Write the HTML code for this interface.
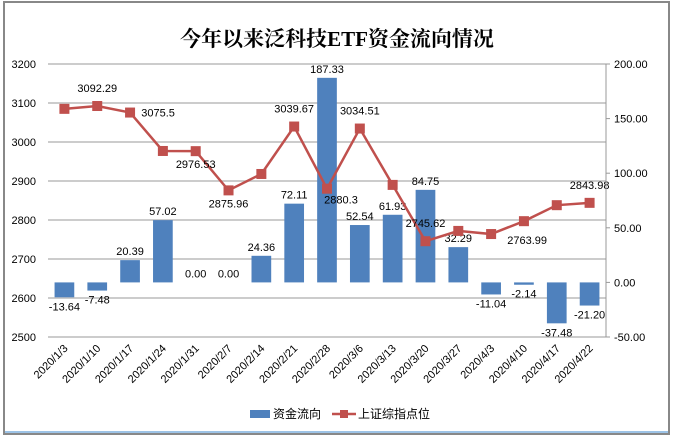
<!DOCTYPE html>
<html><head><meta charset="utf-8"><style>
body{margin:0;background:#fff;}
svg{display:block;font-family:"Liberation Sans","Noto Sans CJK SC",sans-serif;}
</style></head><body>
<svg id="chart" width="674" height="441">
<rect x="4" y="2" width="665" height="432" fill="#fff" stroke="#888" stroke-width="2"/>
<line x1="5" y1="432" x2="668" y2="432" stroke="#9dc3e6" stroke-width="2"/>
<text x="337" y="46" text-anchor="middle" font-size="21" font-weight="bold" font-family="'Liberation Serif','Noto Serif CJK SC',serif">今年以来泛科技ETF资金流向情况</text>
<g id="grid"></g><g id="bars"></g><g id="line"></g><g id="axes"></g>
<g>
<rect x="250" y="410" width="20" height="8" fill="#4f81bd"/>
<text x="273" y="418" font-size="12">资金流向</text>
<line x1="332" y1="414" x2="356" y2="414" stroke="#c0504d" stroke-width="2.5"/>
<rect x="340" y="410" width="8" height="8" fill="#c0504d"/>
<text x="358" y="418" font-size="12">上证综指点位</text>
</g>
</svg>
<script>
const categories=["2020/1/3","2020/1/10","2020/1/17","2020/1/24","2020/1/31","2020/2/7","2020/2/14","2020/2/21","2020/2/28","2020/3/6","2020/3/13","2020/3/20","2020/3/27","2020/4/3","2020/4/10","2020/4/17","2020/4/22"];
const flows=[-13.64,-7.48,20.39,57.02,0,0,24.36,72.11,187.33,52.54,61.93,84.75,32.29,-11.04,-2.14,-37.48,-21.20];
const index=[3085,3092.29,3075.5,2977,2976.53,2875.96,2918,3039.67,2880.3,3034.51,2890,2745.62,2772,2763.99,2797,2838,2843.98];
const indexLabels=[null,"3092.29","3075.5",null,"2976.53","2875.96",null,"3039.67","2880.3","3034.51",null,"2745.62",null,"2763.99",null,null,"2843.98"];
const leftTicks=[2500,2600,2700,2800,2900,3000,3100,3200];
const rightTicks=[-50,0,50,100,150,200];
const X0=48,X1=606,T=64,B=337;
const yL=v=>B-(v-2500)/700*(B-T);
const yR=v=>B-(v+50)/250*(B-T);
const bw=(X1-X0)/categories.length;
const xc=i=>X0+bw*(i+0.5);
const NS="http://www.w3.org/2000/svg";
function mk(p,t,a,txt){const e=document.createElementNS(NS,t);for(const k in a)e.setAttribute(k,a[k]);if(txt!==undefined)e.textContent=txt;document.getElementById(p).appendChild(e);return e;}
leftTicks.forEach(v=>{const g=mk('grid','line',{x1:X0,x2:X1,y1:yL(v),y2:yL(v),stroke:'#bbb','stroke-width':1.5});


const t=mk('axes','text',{x:36,y:yL(v)+4,'font-size':11,'text-anchor':'end'},String(v));

});
mk('axes','line',{x1:X1,x2:X1,y1:T,y2:B,stroke:'#999'});
rightTicks.forEach(v=>{mk('axes','line',{x1:X1,x2:X1+4,y1:yR(v),y2:yR(v),stroke:'#999'});
const t=mk('axes','text',{x:614,y:yR(v)+4,'font-size':11},v.toFixed(2));

});
flows.forEach((v,i)=>{const y0=yR(0),y1=yR(v);
const r=mk('bars','rect',{x:xc(i)-bw*0.3,width:bw*0.6,y:Math.min(y0,y1),height:Math.abs(y1-y0),fill:'#4f81bd'});


const ly=v>=0?y1-5:y1+13;
const t=mk('bars','text',{x:xc(i),y:ly,'font-size':11,'text-anchor':'middle'},v.toFixed(2));


const l=mk('axes','text',{x:0,y:0,'font-size':11,'text-anchor':'end',transform:`translate(${xc(i)+4},${B+12}) rotate(-45)`},categories[i]);

});
const pl=mk('line','polyline',{points:index.map((v,i)=>xc(i)+','+yL(v)).join(' '),fill:'none',stroke:'#c0504d','stroke-width':2.5});


const offs={1:[0,-14],2:[28,4],4:[0,17],5:[0,17],7:[0,-14],8:[14,15],9:[0,-14],11:[0,-14],13:[36,10],16:[0,-14]};
index.forEach((v,i)=>{const p=mk('line','rect',{x:xc(i)-5,y:yL(v)-5,width:10,height:10,fill:'#c0504d'});


if(indexLabels[i]){const o=offs[i]||[0,-14];
const t=mk('line','text',{x:xc(i)+o[0],y:yL(v)+o[1],'font-size':11,'text-anchor':'middle'},indexLabels[i]);

}});
</script>
</body></html>
